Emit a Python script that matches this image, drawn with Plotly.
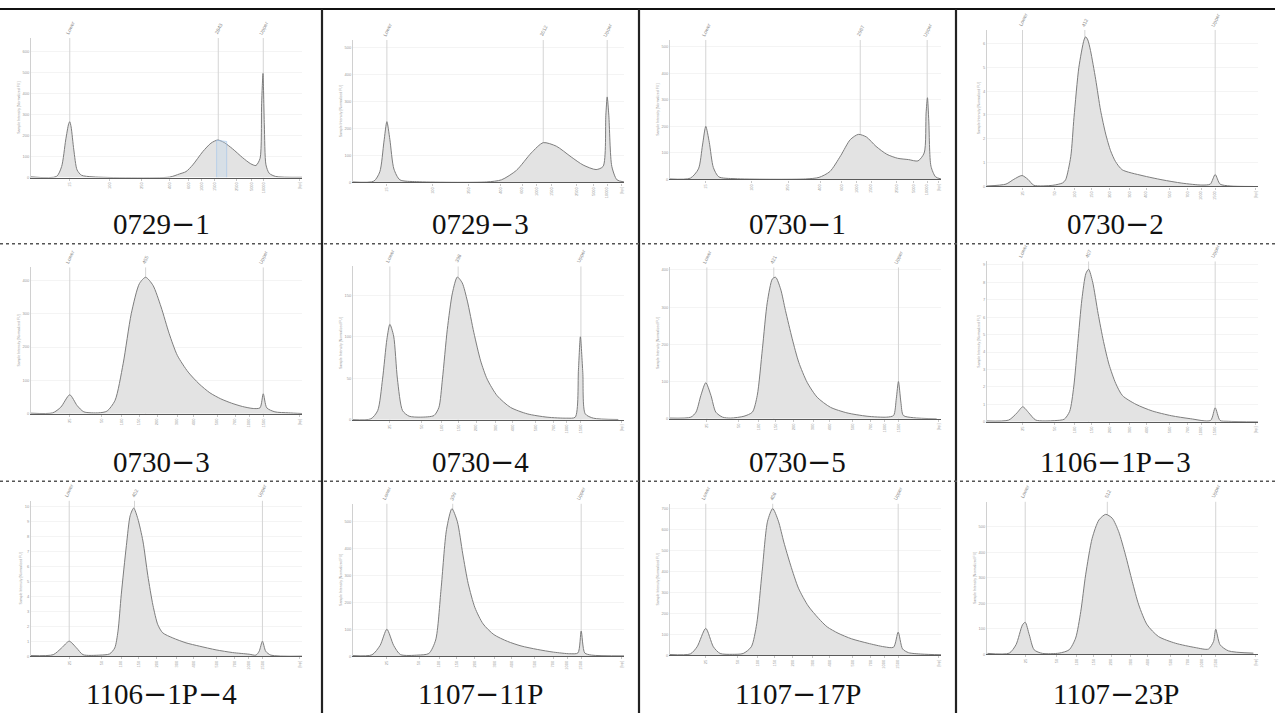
import plotly.graph_objects as go

FIG_W, FIG_H = 1275, 715

# ---------------- data (migration position 0-100, intensity) ----------------
sample_names = ["0729−1", "0729−3", "0730−1", "0730−2",
                "0730−3", "0730−4", "0730−5", "1106−1P−3",
                "1106−1P−4", "1107−11P", "1107−17P", "1107−23P"]

x_0729_1 = [0, 9.4, 11.3, 12.8, 13.9, 14.3, 14.8, 15.8, 17.0, 18.6, 22.9, 51.1, 54.8, 57.2, 59.7, 63.4, 66.4,
            68.9, 71.3, 74.4, 78.0, 81.1, 83.0, 84.5, 85.1, 85.6, 86.1, 86.7, 87.9, 90.3, 100]
y_0729_1 = [3, 5, 52, 178, 255, 265, 240, 131, 36, 11, 3, 2, 17, 28, 60, 123, 163,
            178, 166, 136, 95, 65, 57, 90, 350, 494, 250, 60, 20, 5, 1]

x_0729_3 = [0, 7.7, 9.9, 11.4, 12.5, 13.6, 15.1, 17.3, 23.5, 49.3, 54.8, 60.3, 65.8, 70.2, 75.0, 80.5,
            84.9, 89.7, 92.3, 93.3, 93.8, 94.4, 95.5, 97.4, 100]
y_0729_3 = [2, 5, 40, 150, 226, 160, 50, 10, 3, 2, 10, 45, 110, 148, 135, 95,
            65, 48, 60, 250, 318, 250, 60, 10, 2]

x_0730_1 = [0, 7.5, 10.5, 12, 13.2, 14.5, 16, 18, 24, 50, 55, 59, 63, 66.5, 69.5, 72.5, 76, 80, 84, 88,
            91.5, 93.8, 94.5, 95, 95.5, 96.3, 98, 100]
y_0730_1 = [2, 5, 40, 130, 200, 140, 45, 10, 3, 2, 8, 30, 90, 150, 170, 160, 125, 95, 80, 75,
            70, 100, 250, 308, 220, 50, 10, 2]

x_0730_2 = [0, 7.0, 9.9, 12.9, 15.1, 17.3, 24.3, 27.9, 29.0, 30.9, 32.1, 33.9, 35.8, 36.4, 37.2, 38.2,
            40.1, 41.9, 43.8, 45.6, 47.4, 49.9, 57.2, 64.6, 71.9, 79.3, 82.4, 84.2, 86.0, 89.7, 98.2]
y_0730_2 = [0.02, 0.1, 0.3, 0.46, 0.3, 0.05, 0.05, 0.15, 0.28, 1.25, 2.9, 5.0, 6.15, 6.28, 6.15, 5.7,
            4.5, 3.2, 2.2, 1.5, 1.05, 0.7, 0.46, 0.28, 0.14, 0.06, 0.1, 0.5, 0.1, 0.02, 0]

x_0730_3 = [0, 8, 11, 14.3, 17, 19.5, 25, 28, 31, 34, 37, 40, 42.3, 45, 48, 51, 54, 58, 62, 66, 70, 74,
            78, 82, 84.5, 85.7, 87, 90, 95, 100]
y_0730_3 = [2, 3, 20, 57, 25, 6, 3, 8, 40, 150, 300, 390, 409, 385, 320, 240, 175, 125, 90, 63, 45, 32,
            22, 16, 18, 60, 18, 6, 3, 1]

x_0730_4 = [0, 6.6, 9.1, 10.9, 12.5, 13.6, 15.0, 16.4, 18.3, 20.7, 25, 29.9, 31.7, 33.0, 34.8, 36.7,
            38.5, 40.3, 42.2, 44.6, 47.1, 49.5, 53.2, 58.1, 64.3, 71.6, 78.9, 82.0, 83.2, 83.9, 84.8,
            85.7, 88.7, 97.9]
y_0730_4 = [0.4, 1.2, 11, 49, 97, 115, 101, 49, 11, 4.4, 3.2, 5.2, 15, 49, 109, 153,
            172, 165, 143, 105, 71, 49, 29, 15, 7.2, 3.2, 2, 3.2, 61, 100, 57,
            7.2, 2, 0.4]

x_0730_5 = [0, 7.7, 9.6, 11.4, 13.2, 15.1, 16.9, 19.4, 22.4, 27.3, 30.4, 32.2, 34.1, 35.9, 37.8, 39.0,
            40.8, 42.6, 45.1, 47.5, 50.6, 54.3, 59.2, 65.3, 72.7, 80.0, 82.5, 83.5, 84.3, 85.2, 86.1,
            89.8, 98.4]
y_0730_5 = [2, 4.5, 18, 63, 97, 63, 18, 4.5, 2, 7, 18, 63, 188, 313, 376, 380,
            349, 291, 215, 152, 98, 58, 31, 16, 7, 4.5, 9, 54, 100, 45, 9,
            3, 0]

x_1106_1p_3 = [0, 8, 11, 13.2, 15.5, 18, 25, 28.5, 30.5, 32, 33.5, 35, 36.5, 37.5, 39, 41, 43, 45, 47.5,
               50, 55, 61, 68, 75, 82.5, 84.2, 86, 89, 100]
y_1106_1p_3 = [0.05, 0.1, 0.5, 0.86, 0.5, 0.1, 0.07, 0.15, 0.6, 2.0, 4.5, 7.0, 8.5, 8.74, 8.0, 6.2, 4.6,
               3.3, 2.2, 1.5, 1.0, 0.62, 0.35, 0.18, 0.08, 0.8, 0.08, 0.03, 0]

x_1106_1p_4 = [0, 8.2, 11.3, 14.1, 16.8, 19.2, 25.4, 29.0, 30.9, 32.1, 33.3, 35.2, 36.6, 37.9, 39.4,
               41.3, 43.1, 45.0, 46.8, 48.6, 52.3, 57.2, 62.1, 68.3, 74.4, 80.5, 83.0, 84.2, 85.4,
               86.6, 88.5, 100]
y_1106_1p_4 = [0.04, 0.1, 0.55, 1.0, 0.55, 0.1, 0.07, 0.15, 0.55, 1.67, 4.1, 7.4, 9.4, 9.9, 9.2,
               7.7, 5.4, 3.4, 2.1, 1.56, 1.22, 0.89, 0.67, 0.42, 0.24, 0.13, 0.07, 0.33, 1.0,
               0.33, 0.07, 0]

x_1107_11p = [0, 7, 10, 12.5, 15, 17.5, 24, 28, 30.5, 32.5, 34.5, 36.5, 38.5, 40.5, 42.5, 45, 48, 52,
              57, 62, 68, 74, 80, 83, 84.2, 85.5, 88, 100]
y_1107_11p = [2, 5, 40, 100, 40, 6, 4, 10, 60, 250, 470, 548, 500, 380, 270, 180, 120, 80,
              55, 38, 25, 15, 9, 12, 93, 12, 4, 1]

x_1107_17p = [0, 7.5, 10, 13.2, 16, 18.5, 23, 27, 30, 32, 34, 36, 37.9, 40, 42, 44.5, 47.4, 51, 54.8,
              58, 62, 67, 73, 79, 82.5, 84.2, 85.8, 88, 93, 100]
y_1107_17p = [3, 6, 40, 128, 40, 8, 4, 8, 40, 150, 400, 640, 700, 640, 540, 430, 320, 235, 176,
              135, 105, 78, 57, 40, 38, 110, 30, 12, 5, 2]

x_1107_23p = [0.2, 8.2, 10.7, 13.1, 14.1, 15.6, 17.4, 20.5, 26.6, 30.3, 32.7, 34.6, 36.4, 38.8, 41.3,
              43.8, 46.2, 48.6, 51.1, 53.6, 56.0, 59.1, 63.3, 69.5, 76.8, 81.7, 83.6, 84.4, 86.0,
              89.1, 98.3]
y_1107_23p = [3, 4, 37, 115, 125, 76, 17, 3, 4, 17, 63, 167, 311, 454, 526,
              548, 533, 480, 389, 285, 193, 115, 69, 43, 26, 20, 50, 98, 37,
              13, 4]

traces_x = [x_0729_1, x_0729_3, x_0730_1, x_0730_2, x_0730_3, x_0730_4,
            x_0730_5, x_1106_1p_3, x_1106_1p_4, x_1107_11p, x_1107_17p, x_1107_23p]
traces_y = [y_0729_1, y_0729_3, y_0730_1, y_0730_2, y_0730_3, y_0730_4,
            y_0730_5, y_1106_1p_3, y_1106_1p_4, y_1107_11p, y_1107_17p, y_1107_23p]

# highlighted (selected) region in sample 0729-1
sel_x_0729_1 = [68.5, 68.5, 72.2, 72.2]
sel_y_0729_1 = [0, 177, 171, 0]

# peak / marker positions and their labels
marker_pos = [[14.3, 69.1, 85.7], [12.5, 70.2, 93.8], [13.2, 70.2, 94.9], [13.1, 36.1, 84.2],
              [14.3, 42.3, 85.7], [13.6, 38.8, 84.1], [13.6, 38.3, 84.3], [13.2, 37.5, 84.2],
              [14.1, 38.2, 85.4], [12.5, 36.8, 84.2], [13.2, 37.9, 84.2], [14.1, 44.4, 84.4]]
marker_text = [["Lower", "2843", "Upper"], ["Lower", "3012", "Upper"], ["Lower", "2967", "Upper"],
               ["Lower", "412", "Upper"], ["Lower", "455", "Upper"], ["Lower", "398", "Upper"],
               ["Lower", "421", "Upper"], ["Lower", "407", "Upper"], ["Lower", "402", "Upper"],
               ["Lower", "399", "Upper"], ["Lower", "408", "Upper"], ["Lower", "512", "Upper"]]

y_step = [100, 100, 100, 1, 100, 50, 100, 1, 1, 100, 100, 100]
y_top = [663, 530, 526, 6.57, 439, 185, 407, 9.2, 10.4, 567, 724, 598]
y_title = "Sample Intensity [Normalized FU]"

# size ladders (fraction between lower and upper marker) and their labels
ladder_a_frac = [0, 0.206, 0.372, 0.516, 0.614, 0.680, 0.747, 0.861, 0.938, 1.0]
ladder_a_lbl = ["15", "100", "250", "400", "600", "1000", "1500", "2500", "5000", "10000"]
ladder_b_frac = [0, 0.166, 0.269, 0.358, 0.451, 0.555, 0.642, 0.762, 0.855, 0.927, 1.0]
ladder_b_lbl = ["25", "50", "100", "150", "200", "300", "400", "500", "700", "1000", "1500"]
ladder_of_panel = ["a", "a", "a", "b", "b", "b", "b", "b", "b", "b", "b", "b"]

# ---------------- layout geometry (pixels) ----------------
col_edges = [0, 322, 639, 956, 1275]
row_top = [9, 245, 482]
label_y = [225, 463, 696]
baseline_px = [178, 183, 180, 187, 415, 421, 420, 423, 658, 658, 657, 656]
top_px = [38, 40, 40, 30, 268, 267, 268, 262, 502, 505, 505, 503]


def px_x(p):
    return p / FIG_W


def px_y(p):
    return 1 - p / FIG_H


def label_markup(name):
    # wide minus sign, as in the source table
    return name.replace("−", '<span style="font-family:DejaVu Sans">−</span>')


fig = go.Figure()
layout = dict(width=FIG_W, height=FIG_H, margin=dict(l=0, r=0, t=0, b=0),
              paper_bgcolor="white", plot_bgcolor="white", showlegend=False,
              shapes=[], annotations=[])
tiny = dict(family="Liberation Sans", size=4, color="#9a9a9a")

for i in range(12):
    r, c = divmod(i, 4)
    n = i + 1
    sx = "" if n == 1 else str(n)
    xr, yr = "x" + sx, "y" + sx
    left = col_edges[c]

    # marker guide lines
    for mp in marker_pos[i]:
        fig.add_trace(go.Scatter(x=[mp, mp], y=[0, y_top[i]], mode="lines",
                                 line=dict(color="#d4d4d4", width=1), xaxis=xr, yaxis=yr,
                                 hoverinfo="skip"))
    # electropherogram
    fig.add_trace(go.Scatter(x=traces_x[i], y=traces_y[i], mode="lines", fill="tozeroy",
                             fillcolor="#e3e3e3", line=dict(color="#7d7d7d", width=1,
                                                            shape="spline", smoothing=0.7),
                             xaxis=xr, yaxis=yr))
    if i == 0:
        fig.add_trace(go.Scatter(x=sel_x_0729_1, y=sel_y_0729_1, mode="lines", fill="toself",
                                 fillcolor="rgba(190,215,240,0.3)",
                                 line=dict(color="rgba(160,195,235,0.6)", width=1),
                                 xaxis=xr, yaxis=yr, hoverinfo="skip"))

    lo, hi = marker_pos[i][0], marker_pos[i][2]
    if ladder_of_panel[i] == "a":
        fr, lb = ladder_a_frac, ladder_a_lbl
    else:
        fr, lb = ladder_b_frac, ladder_b_lbl
    tv = [lo + f * (hi - lo) for f in fr] + [99]
    tt = lb + ["[bp]"]

    nt = int(y_top[i] // y_step[i]) + 1
    ytv = [k * y_step[i] for k in range(nt)]

    layout["xaxis" + sx] = dict(domain=[px_x(left + 31), px_x(left + 302)], range=[0, 100],
                                anchor=yr, showline=True, linecolor="#5a5a5a", linewidth=1.2,
                                showgrid=False, zeroline=False, tickvals=tv, ticktext=tt,
                                tickangle=-90, tickfont=tiny, ticks="outside", ticklen=2,
                                tickcolor="#c8c8c8", fixedrange=True)
    layout["yaxis" + sx] = dict(domain=[px_y(baseline_px[i]), px_y(top_px[i])],
                                range=[0, y_top[i]], anchor=xr, showline=True,
                                linecolor="#d0d0d0", linewidth=1, showgrid=True,
                                gridcolor="#f4f4f4", zeroline=False, tickvals=ytv,
                                tickfont=tiny, ticks="", title=dict(text=y_title,
                                                                    font=dict(family="Liberation Sans", size=3.5, color="#a0a0a0"),
                                                                    standoff=2),
                                fixedrange=True)
    # marker labels at the top
    for mp, mt in zip(marker_pos[i], marker_text[i]):
        layout["annotations"].append(dict(x=mp, y=1.0, xref=xr, yref=yr + " domain",
                                          text=mt, showarrow=False, textangle=-65,
                                          font=dict(family="Liberation Sans", size=5, color="#8a8a8a"),
                                          yanchor="bottom", xanchor="center"))
    # sample label
    layout["annotations"].append(dict(x=px_x((col_edges[c] + col_edges[c + 1]) / 2),
                                      y=px_y(label_y[r]), xref="paper", yref="paper",
                                      text=label_markup(sample_names[i]), showarrow=False,
                                      font=dict(family="Liberation Serif", size=29, color="#111111"),
                                      xanchor="center", yanchor="middle"))

# table rules
layout["shapes"].append(dict(type="line", xref="paper", yref="paper", x0=0, x1=1,
                             y0=px_y(9), y1=px_y(9), line=dict(color="#111", width=2)))
for xe in col_edges[1:4]:
    layout["shapes"].append(dict(type="line", xref="paper", yref="paper", x0=px_x(xe), x1=px_x(xe),
                                 y0=px_y(9), y1=0, line=dict(color="#222", width=2.2)))
for yl in [244.5, 482.5]:
    layout["shapes"].append(dict(type="line", xref="paper", yref="paper", x0=0, x1=1,
                                 y0=px_y(yl), y1=px_y(yl), line=dict(color="#555", width=1.5, dash="dot")))

fig.update_layout(**layout)
fig.write_html("out.html")
